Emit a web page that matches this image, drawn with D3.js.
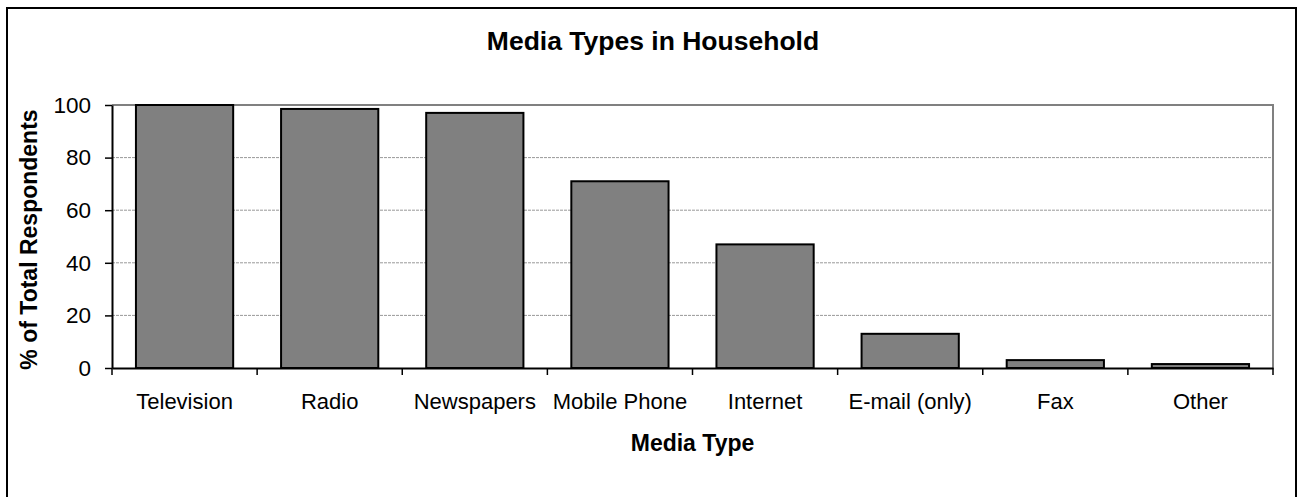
<!DOCTYPE html>
<html>
<head>
<meta charset="utf-8">
<script src="https://cdn.jsdelivr.net/npm/d3@7"></script>
<style>
  html, body { margin: 0; padding: 0; background: #fff; }
  svg { display: block; font-family: "Liberation Sans", Arial, sans-serif; }
</style>
</head>
<body>
<svg id="chart"></svg>
<script>
const WIDTH = 1298;
const HEIGHT = 497;

const categories = ['Television', 'Radio', 'Newspapers', 'Mobile Phone', 'Internet', 'E-mail (only)', 'Fax', 'Other'];
const values = [100, 98.5, 97, 71, 47, 13, 3, 1.5];
const yTicks = [0, 20, 40, 60, 80, 100];

const margin = { top: 105, right: 25, bottom: 129, left: 112 };
const plotW = WIDTH - margin.left - margin.right;
const plotH = HEIGHT - margin.top - margin.bottom;

const svg = d3.select('#chart')
    .attr('width', WIDTH)
    .attr('height', HEIGHT);

// outer frame
svg.append('rect')
    .attr('x', 7)
    .attr('y', 8)
    .attr('width', 1289)
    .attr('height', 500)
    .attr('fill', '#fff')
    .attr('stroke', '#000')
    .attr('stroke-width', 2);

svg.append('text')
    .attr('x', 653)
    .attr('y', 50)
    .attr('text-anchor', 'middle')
    .attr('font-size', 26.5)
    .attr('font-weight', 'bold')
    .text('Media Types in Household');

const x = d3.scaleBand()
    .domain(categories)
    .range([0, plotW])
    .paddingInner(0.33)
    .paddingOuter(0.165);

const y = d3.scaleLinear()
    .domain([0, 100])
    .range([plotH, 0]);

const g = svg.append('g')
    .attr('transform', `translate(${margin.left},${margin.top})`);

// dashed gridlines
g.selectAll('.grid')
    .data(yTicks.filter(d => d > 0 && d < 100))
    .join('line')
    .attr('class', 'grid')
    .attr('x1', 0)
    .attr('x2', plotW)
    .attr('y1', d => y(d))
    .attr('y2', d => y(d))
    .attr('stroke', '#999')
    .attr('stroke-width', 1)
    .attr('stroke-dasharray', '3,1');

// gray top and right border of plot area
g.append('path')
    .attr('d', `M0,${y(100)}H${plotW}V${plotH}`)
    .attr('fill', 'none')
    .attr('stroke', '#808080')
    .attr('stroke-width', 2);

g.selectAll('.bar')
    .data(values)
    .join('rect')
    .attr('class', 'bar')
    .attr('x', (d, i) => x(categories[i]))
    .attr('width', x.bandwidth())
    .attr('y', d => y(d))
    .attr('height', d => y(0) - y(d))
    .attr('fill', '#808080')
    .attr('stroke', '#000')
    .attr('stroke-width', 2);

// y axis
const yAxis = g.append('g')
    .call(d3.axisLeft(y).tickValues(yTicks).tickSize(7).tickPadding(14).tickSizeOuter(0));
yAxis.select('.domain').attr('stroke-width', 2);
yAxis.selectAll('.tick line').attr('stroke-width', 1.5);
yAxis.selectAll('text')
    .attr('font-size', 22.5)
    .attr('font-family', '"Liberation Sans", Arial, sans-serif')
    .attr('fill', '#000');

// x axis: labels centered in bands, ticks at band boundaries
const xAxis = g.append('g')
    .attr('transform', `translate(0,${plotH})`)
    .call(d3.axisBottom(x).tickSize(0).tickPadding(25).tickSizeOuter(0));
xAxis.select('.domain').attr('stroke-width', 2);
xAxis.selectAll('text')
    .attr('font-size', 22)
    .attr('font-family', '"Liberation Sans", Arial, sans-serif')
    .attr('fill', '#000');

const bounds = d3.range(categories.length + 1).map(i => i * x.step());
xAxis.selectAll('.bound')
    .data(bounds)
    .join('line')
    .attr('class', 'bound')
    .attr('x1', d => d)
    .attr('x2', d => d)
    .attr('y1', 0)
    .attr('y2', 7)
    .attr('stroke', '#000')
    .attr('stroke-width', 1.5);

svg.append('text')
    .attr('x', margin.left + plotW / 2)
    .attr('y', 451)
    .attr('text-anchor', 'middle')
    .attr('font-size', 23)
    .attr('font-weight', 'bold')
    .text('Media Type');

svg.append('text')
    .attr('transform', `translate(37,${margin.top + plotH / 2 + 3}) rotate(-90)`)
    .attr('text-anchor', 'middle')
    .attr('font-size', 23)
    .attr('font-weight', 'bold')
    .text('% of Total Respondents');
</script>
</body>
</html>
